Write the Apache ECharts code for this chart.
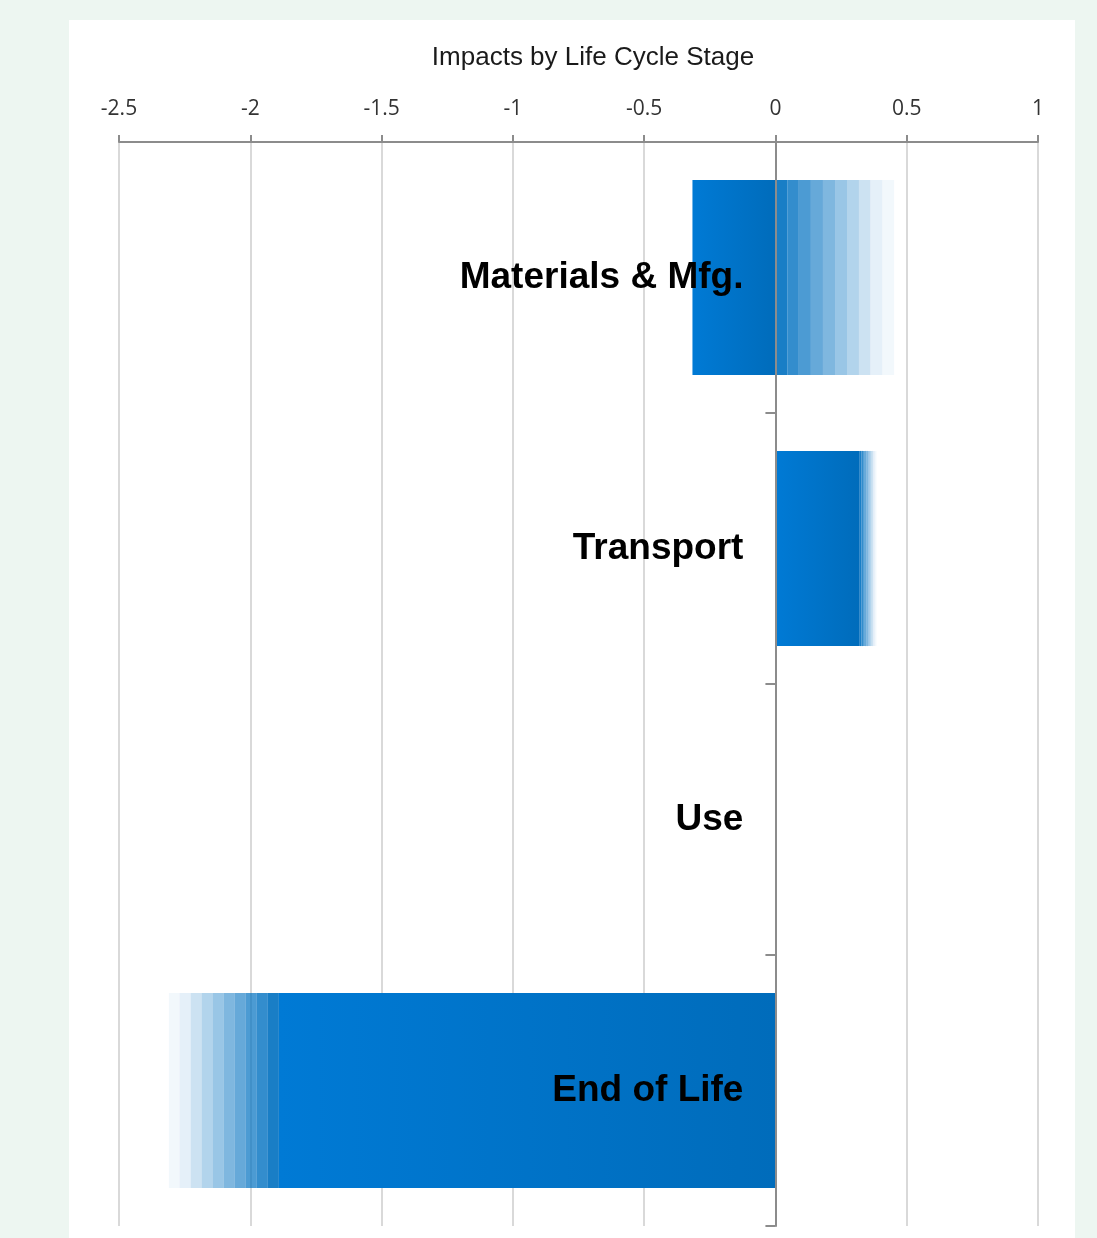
<!DOCTYPE html>
<html>
<head>
<meta charset="utf-8">
<script src="https://cdn.jsdelivr.net/npm/echarts@6/dist/echarts.min.js"></script>
<style>
  html, body { margin: 0; padding: 0; }
  body { width: 1097px; height: 1238px; background: #EDF6F1; position: relative; overflow: hidden; }
  #panel { position: absolute; left: 69px; top: 20px; width: 1006px; height: 1218px; background: #ffffff; }
  #chart { position: absolute; left: 0; top: 0; width: 1097px; height: 1238px; }
</style>
</head>
<body>
<div id="panel"></div>
<div id="chart"></div>
<script>
// ---- data ----
const titleText = 'Impacts by Life Cycle Stage';
const categories = ['Materials & Mfg.', 'Transport', 'Use', 'End of Life'];
// main bar values per stage
const baseValues = [-0.316, 0.321, 0, -1.891];
// fading (uncertainty) increments, one entry per fade step, outermost last
const fadeMaterials = [0.046, 0.043, 0.046, 0.046, 0.046, 0.046, 0.045, 0.043, 0.046, 0.045];
const fadeTransport = [0.0064, 0.0064, 0.0064, 0.0064, 0.0064, 0.0064, 0.0064, 0.0064, 0.0064, 0.0064];
const fadeUse       = [0, 0, 0, 0, 0, 0, 0, 0, 0, 0];
const fadeEndOfLife = [-0.042, -0.042, -0.042, -0.042, -0.042, -0.042, -0.042, -0.042, -0.042, -0.041];
const xTicks = { min: -2.5, max: 1, interval: 0.5 };

// ---- styles ----
const fadeOpacity = [0.9, 0.8, 0.7, 0.6, 0.5, 0.4, 0.3, 0.2, 0.1, 0.05];
const axisGray = '#8C8C8C';
const gridLeft = 119, gridRight = 59;
const plotWidth = 1097 - gridLeft - gridRight;

// labels sit 32px left of the zero line (the category axis lies on zero)
const zeroOffset = plotWidth * (0 - xTicks.min) / (xTicks.max - xTicks.min);

const chart = echarts.init(document.getElementById('chart'), null, { renderer: 'canvas' });

const series = [{
  name: 'base',
  type: 'bar',
  stack: 'total',
  barCategoryGap: '28%',
  data: baseValues,
  itemStyle: {
    color: new echarts.graphic.LinearGradient(0, 0, 1, 0, [
      { offset: 0, color: '#007AD5' },
      { offset: 1, color: '#006CBB' }
    ])
  },
  z: 2
}];
for (let k = 0; k < fadeOpacity.length; k++) {
  series.push({
    name: 'fade' + k,
    type: 'bar',
    stack: 'total',
    barCategoryGap: '28%',
    data: [fadeMaterials[k], fadeTransport[k], fadeUse[k], fadeEndOfLife[k]],
    itemStyle: { color: 'rgba(0,112,192,' + fadeOpacity[k] + ')' },
    z: 2
  });
}

chart.setOption({
  animation: false,
  backgroundColor: 'transparent',
  title: {
    text: titleText,
    left: 593,
    top: 45,
    padding: 0,
    textAlign: 'center',
    textStyle: { fontFamily: 'Liberation Sans, Arial, sans-serif', fontSize: 26, fontWeight: 'normal', color: '#1a1a1a' }
  },
  grid: { left: gridLeft, right: gridRight, top: 142, bottom: 12, containLabel: false, outerBoundsMode: 'none' },
  xAxis: {
    type: 'value',
    position: 'top',
    min: xTicks.min,
    max: xTicks.max,
    interval: xTicks.interval,
    axisLine: { show: true, onZero: false, lineStyle: { color: axisGray, width: 2 } },
    axisTick: { show: true, length: 7, lineStyle: { color: axisGray, width: 2 } },
    axisLabel: { margin: 22, fontFamily: 'Open Sans, sans-serif', fontSize: 21, color: '#333333' },
    splitLine: { show: true, lineStyle: { color: '#D9D9D9', width: 2 } }
  },
  yAxis: {
    type: 'category',
    inverse: true,
    data: categories,
    z: 10,
    axisLine: { show: true, onZero: true, lineStyle: { color: axisGray, width: 2 } },
    axisTick: { show: true, length: 10, lineStyle: { color: axisGray, width: 2 } },
    axisLabel: {
      margin: 32 - zeroOffset,
      padding: [12, 0, 0, 0],
      fontFamily: 'Liberation Sans, Arial, sans-serif',
      fontSize: 37,
      fontWeight: 'bold',
      color: '#000000'
    },
    splitLine: { show: false }
  },
  series: series
});
</script>
</body>
</html>
